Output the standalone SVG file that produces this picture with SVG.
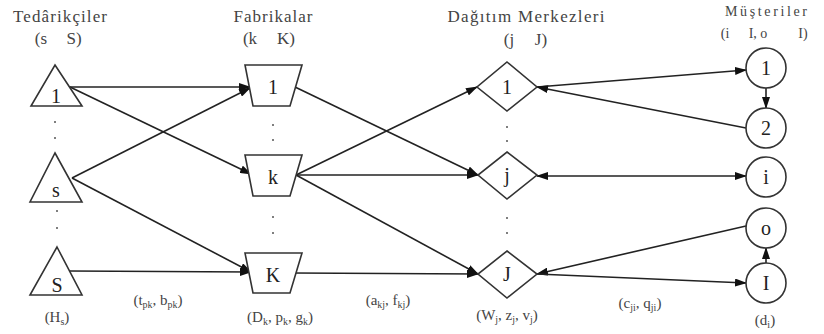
<svg xmlns="http://www.w3.org/2000/svg" width="824" height="334" viewBox="0 0 824 334">
<style>
  .shape { fill: #ffffff; stroke: #333333; stroke-width: 1.6; }
  .edge { fill: none; stroke: #222222; stroke-width: 1.6; }
  .lbl { font-family: "Liberation Serif", "Times New Roman", serif; font-size: 20px; fill: #222222; text-anchor: middle; }
  .hdr { font-family: "Liberation Serif", "Times New Roman", serif; font-size: 17px; fill: #444444; text-anchor: middle; }
  .par { font-family: "Liberation Serif", "Times New Roman", serif; font-size: 15px; fill: #444444; text-anchor: middle; }
  .sub { font-size: 10px; }
  .dot { fill: #555555; }
</style>
<defs>
  <marker id="arr" markerUnits="userSpaceOnUse" markerWidth="12" markerHeight="8" refX="11" refY="4" orient="auto-start-reverse">
    <path d="M0,0 L12,4 L0,8 z" fill="#111111"/>
  </marker>
</defs>

<!-- headers -->
<text class="hdr" x="60" y="22" textLength="94" lengthAdjust="spacing">Tedârikçiler</text>
<text class="hdr" x="58" y="44"><tspan x="41">(s</tspan><tspan x="74">S)</tspan></text>
<text class="hdr" x="273" y="22" textLength="79" lengthAdjust="spacing">Fabrikalar</text>
<text class="hdr" x="269" y="44"><tspan x="250">(k</tspan><tspan x="286">K)</tspan></text>
<text class="hdr" x="526" y="22" textLength="157" lengthAdjust="spacing">Dağıtım Merkezleri</text>
<text class="hdr" x="525" y="45"><tspan x="509">(j</tspan><tspan x="541">J)</tspan></text>
<text class="hdr" x="766" y="16" style="font-size:14px" textLength="82" lengthAdjust="spacing">Müşteriler</text>
<text class="hdr" x="766" y="38" style="font-size:14px"><tspan x="725">(i</tspan><tspan x="758">I, o</tspan><tspan x="803">I)</tspan></text>

<!-- connectors -->
<g id="connectors">
  <line class="edge" x1="70" y1="87" x2="250" y2="87" marker-end="url(#arr)"/>
  <line class="edge" x1="70" y1="87" x2="251" y2="174" marker-end="url(#arr)"/>
  <line class="edge" x1="72" y1="178" x2="250" y2="88" marker-end="url(#arr)"/>
  <line class="edge" x1="72" y1="178" x2="251" y2="272" marker-end="url(#arr)"/>
  <line class="edge" x1="70" y1="271" x2="251" y2="272" marker-end="url(#arr)"/>
  <line class="edge" x1="295" y1="87" x2="478" y2="175" marker-end="url(#arr)"/>
  <line class="edge" x1="296" y1="175" x2="477" y2="87" marker-end="url(#arr)"/>
  <line class="edge" x1="296" y1="175" x2="478" y2="175" marker-end="url(#arr)"/>
  <line class="edge" x1="296" y1="175" x2="478" y2="274" marker-end="url(#arr)"/>
  <line class="edge" x1="293" y1="273" x2="478" y2="274" marker-end="url(#arr)"/>
  <line class="edge" x1="537" y1="87" x2="746" y2="70" marker-end="url(#arr)"/>
  <line class="edge" x1="746" y1="128" x2="537" y2="87" marker-end="url(#arr)"/>
  <line class="edge" x1="537" y1="176" x2="746" y2="176" marker-start="url(#arr)" marker-end="url(#arr)"/>
  <line class="edge" x1="746" y1="226" x2="537" y2="274" marker-end="url(#arr)"/>
  <line class="edge" x1="537" y1="274" x2="746" y2="283" marker-end="url(#arr)"/>
  <line class="edge" x1="766" y1="88" x2="766" y2="108" marker-end="url(#arr)"/>
  <line class="edge" x1="766" y1="263" x2="766" y2="248" marker-end="url(#arr)"/>
</g>

<!-- suppliers -->
<g id="supplier-1">
  <polygon class="shape" points="55,65 82,106 31,106"/>
  <text class="lbl" x="56" y="103">1</text>
</g>
<g id="supplier-s">
  <polygon class="shape" points="55,153 82,202 30,202"/>
  <text class="lbl" x="56" y="197">s</text>
</g>
<g id="supplier-S">
  <polygon class="shape" points="57,247 82,295 30,295"/>
  <text class="lbl" x="57" y="292">S</text>
</g>
<g id="supplier-dots">
  <circle class="dot" cx="55" cy="122" r="1"/>
  <circle class="dot" cx="55" cy="138" r="1"/>
  <circle class="dot" cx="57" cy="211" r="1"/>
  <circle class="dot" cx="57" cy="228" r="1"/>
</g>

<!-- factories -->
<g id="factory-1">
  <polygon class="shape" points="245,65 302,65 290,106 253,106"/>
  <text class="lbl" x="273" y="94">1</text>
</g>
<g id="factory-k">
  <polygon class="shape" points="245,155 302,155 290,196 253,196"/>
  <text class="lbl" x="273" y="184">k</text>
</g>
<g id="factory-K">
  <polygon class="shape" points="245,253 302,253 290,293 253,293"/>
  <text class="lbl" x="273" y="282">K</text>
</g>
<g id="factory-dots">
  <circle class="dot" cx="273" cy="125" r="1"/>
  <circle class="dot" cx="273" cy="140" r="1"/>
  <circle class="dot" cx="273" cy="217" r="1"/>
  <circle class="dot" cx="273" cy="233" r="1"/>
</g>

<!-- distribution centres -->
<g id="dc-1">
  <polygon class="shape" points="507,62 537,87 507,111 477,87"/>
  <text class="lbl" x="507" y="94">1</text>
</g>
<g id="dc-j">
  <polygon class="shape" points="507,152 537,175 507,199 478,175"/>
  <text class="lbl" x="507" y="182">j</text>
</g>
<g id="dc-J">
  <polygon class="shape" points="507,251 537,274 507,298 478,274"/>
  <text class="lbl" x="507" y="281">J</text>
</g>
<g id="dc-dots">
  <circle class="dot" cx="507" cy="127" r="1"/>
  <circle class="dot" cx="507" cy="141" r="1"/>
  <circle class="dot" cx="507" cy="218" r="1"/>
  <circle class="dot" cx="507" cy="233" r="1"/>
</g>

<!-- customers -->
<g id="customer-1">
  <circle class="shape" cx="766" cy="68" r="20"/>
  <text class="lbl" x="766" y="75">1</text>
</g>
<g id="customer-2">
  <circle class="shape" cx="766" cy="128" r="20"/>
  <text class="lbl" x="766" y="135">2</text>
</g>
<g id="customer-i">
  <circle class="shape" cx="766" cy="177" r="20"/>
  <text class="lbl" x="766" y="184">i</text>
</g>
<g id="customer-o">
  <circle class="shape" cx="766" cy="228" r="20"/>
  <text class="lbl" x="766" y="235">o</text>
</g>
<g id="customer-I">
  <circle class="shape" cx="766" cy="283" r="20"/>
  <text class="lbl" x="766" y="290">I</text>
</g>

<!-- parameter labels -->
<text class="par" x="57" y="322">(H<tspan class="sub" dy="3">s</tspan><tspan dy="-3">)</tspan></text>
<text class="par" x="158" y="305">(t<tspan class="sub" dy="3">pk</tspan><tspan dy="-3">, b</tspan><tspan class="sub" dy="3">pk</tspan><tspan dy="-3">)</tspan></text>
<text class="par" x="280" y="322">(D<tspan class="sub" dy="3">k</tspan><tspan dy="-3">, p</tspan><tspan class="sub" dy="3">k</tspan><tspan dy="-3">, g</tspan><tspan class="sub" dy="3">k</tspan><tspan dy="-3">)</tspan></text>
<text class="par" x="388" y="305">(a<tspan class="sub" dy="3">kj</tspan><tspan dy="-3">, f</tspan><tspan class="sub" dy="3">kj</tspan><tspan dy="-3">)</tspan></text>
<text class="par" x="507" y="320">(W<tspan class="sub" dy="3">j</tspan><tspan dy="-3">, z</tspan><tspan class="sub" dy="3">j</tspan><tspan dy="-3">, v</tspan><tspan class="sub" dy="3">j</tspan><tspan dy="-3">)</tspan></text>
<text class="par" x="640" y="308">(c<tspan class="sub" dy="3">ji</tspan><tspan dy="-3">, q</tspan><tspan class="sub" dy="3">ji</tspan><tspan dy="-3">)</tspan></text>
<text class="par" x="765" y="325">(d<tspan class="sub" dy="3">i</tspan><tspan dy="-3">)</tspan></text>
</svg>
